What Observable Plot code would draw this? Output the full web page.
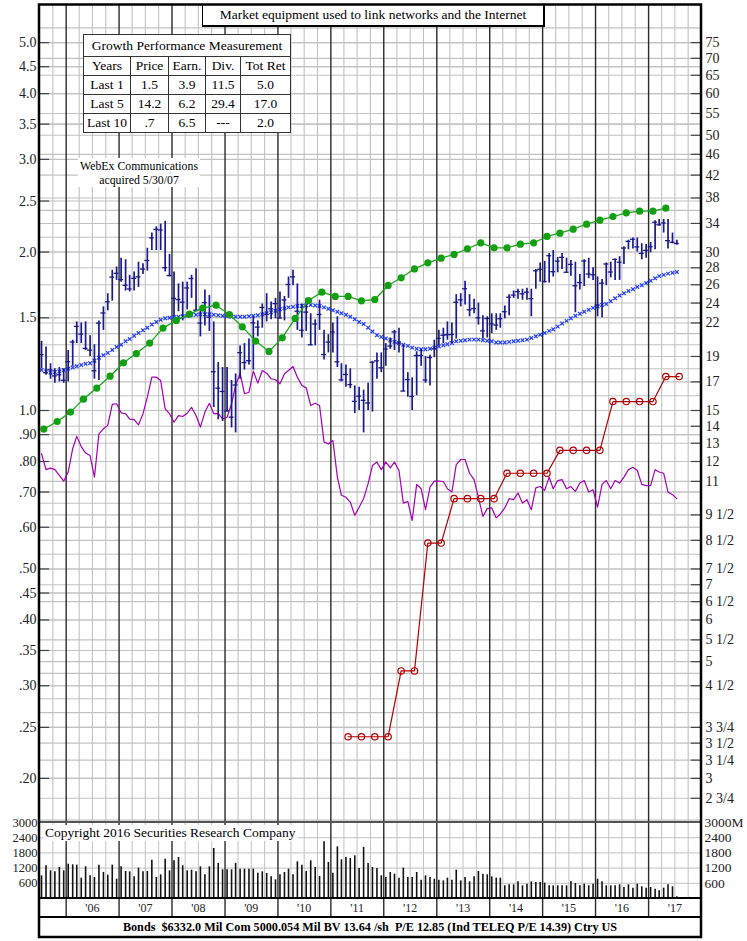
<!DOCTYPE html>
<html><head><meta charset="utf-8">
<script src="https://cdn.jsdelivr.net/npm/d3@7"></script>
<script src="https://cdn.jsdelivr.net/npm/@observablehq/plot@0.6"></script>
<style>
body{margin:0;background:#fff;}
#wrap{position:relative;width:747px;height:941px;font-family:"Liberation Serif","Times New Roman",serif;color:#000;overflow:hidden;}
#wrap svg{position:absolute;left:0;overflow:visible;}
.box{position:absolute;background:#fff;box-sizing:border-box;}
#title{left:202px;top:4px;width:343px;height:23px;border:1.5px solid #000;border-right-width:2.5px;border-bottom-width:2.5px;font-size:13.5px;line-height:20px;text-align:center;}
#perf{left:83px;top:34px;border-collapse:collapse;font-size:13.5px;position:absolute;background:#fff;}
#perf td{border:1.3px solid #333;text-align:center;padding:0;height:18px;line-height:16px;}
#perf td.h{height:21px;}
#webex{left:78px;top:158px;width:122px;height:29px;font-size:11.8px;line-height:14px;text-align:center;padding-top:1px;white-space:nowrap;}
#copy{left:43px;top:825px;width:254px;height:16px;font-size:13.5px;line-height:16px;padding-left:2px;white-space:nowrap;}
#footer{left:39px;top:917px;width:662px;height:20px;font-size:12.2px;font-weight:bold;line-height:20px;text-align:center;white-space:nowrap;}
</style></head><body><div id="wrap"></div>
<script>
// ---------------- data ----------------
const titleText = "Market equipment used to link networks and the Internet";
const footerText = "Bonds  $6332.0 Mil Com 5000.054 Mil BV 13.64 /sh  P/E 12.85 (Ind TELEQ P/E 14.39) Ctry US";
const noteLines = ["WebEx Communications", "acquired 5/30/07"];
const copyrightText = "Copyright 2016 Securities Research Company";
const perfTitle = "Growth Performance Measurement";
const perfHeader = ["Years", "Price", "Earn.", "Div.", "Tot Ret"];
const perfRows = [
  ["Last 1", "1.5", "3.9", "11.5", "5.0"],
  ["Last 5", "14.2", "6.2", "29.4", "17.0"],
  ["Last 10", ".7", "6.5", "---", "2.0"]
];
const ratio = 15; // price scale (right) = 15 x earnings scale (left)
const leftTicks = [5, 4.5, 4, 3.5, 3, 2.5, 2, 1.5, 1, .9, .8, .7, .6, .5, .45, .4, .35, .3, .25, .2];
const leftLabels = ["5.0","4.5","4.0","3.5","3.0","2.5","2.0","1.5","1.0",".90",".80",".70",".60",".50",".45",".40",".35",".30",".25",".20"];
const rightTicks = [75,70,65,60,55,50,46,42,38,34,30,28,26,24,22,19,17,15,14,13,12,11,9.5,8.5,7.5,7,6.5,6,5.5,5,4.5,3.75,3.5,3.25,3,2.75];
const rightLabels = ["75","70","65","60","55","50","46","42","38","34","30","28","26","24","22","19","17","15","14","13","12","11","9 1/2","8 1/2","7 1/2","7","6 1/2","6","5 1/2","5","4 1/2","3 3/4","3 1/2","3 1/4","3","2 3/4"];
const gridPrices = [80,75,70,67.5,65,60,55,52.5,50,46,42,38,36,34,32,30,28,26,24,22.5,22,21,20,19,18,17,16,15,14,13.5,13,12,11,10.5,10,9.5,9,8.5,8,7.5,7,6.75,6.5,6,5.5,5.25,5,4.75,4.5,4.25,4,3.75,3.5,3.25,3,2.75,2.5];
const volTicks = [3000, 2400, 1800, 1200, 600];
const volLeftLabels = ["3000","2400","1800","1200","600"];
const volRightLabels = ["3000M","2400","1800","1200","600"];
const yearLabels = ["'06","'07","'08","'09","'10","'11","'12","'13","'14","'15","'16","'17"];

// monthly price bars, Jul 2005 .. Jul 2017 (dollars, right scale)
const high = [20.3,19.8,18.4,18.0,18.1,18.0,19.5,20.4,22.1,22.0,22.1,20.8,20.0,22.2,23.6,25.0,27.7,28.1,29.2,29.0,27.1,27.5,28.7,28.5,30.5,32.6,33.5,33.9,34.3,29.7,27.5,26.1,26.3,26.3,27.1,27.9,23.4,25.4,24.8,22.1,18.5,18.1,18.1,17.1,17.6,19.9,20.1,20.5,22.6,22.2,23.9,25.0,24.1,24.5,25.2,24.7,26.9,27.7,26.1,23.9,24.5,22.9,22.3,24.3,21.3,20.9,22.0,22.6,18.4,18.3,18.0,16.7,16.6,16.4,16.9,18.6,19.3,19.3,20.1,20.6,21.3,21.5,20.0,17.7,17.3,19.4,19.6,19.0,19.1,20.4,21.3,21.5,22.1,22.0,24.9,25.0,26.4,24.9,24.4,24.0,22.7,22.6,22.9,22.9,22.9,23.7,24.9,25.3,25.5,25.5,25.6,25.5,27.8,28.6,28.8,29.8,30.2,29.3,29.8,29.2,28.9,28.7,27.2,29.0,29.2,28.0,26.9,26.6,28.6,28.7,29.1,29.4,30.7,31.6,31.9,31.9,31.1,31.0,31.3,34.4,34.6,34.6,34.6,32.6,31.6];
const low = [18.0,17.5,17.2,16.9,17.0,16.9,17.0,18.2,20.1,20.1,19.5,19.0,17.2,17.1,21.3,23.2,24.2,26.5,26.3,25.3,25.2,25.3,25.7,27.2,27.6,30.2,30.2,30.2,27.5,26.9,22.6,23.1,22.2,23.3,24.5,23.2,20.7,21.7,21.2,15.2,14.4,14.3,14.9,13.9,13.6,17.2,17.9,18.3,17.9,20.7,21.5,22.1,22.3,22.4,22.4,22.2,24.5,25.9,21.3,20.6,21.2,19.9,19.9,21.3,18.7,19.3,19.3,18.1,17.0,16.6,16.5,14.8,15.0,13.6,15.0,14.9,17.2,17.7,18.2,19.6,19.5,19.3,16.3,15.9,15.0,16.0,18.2,16.9,16.7,18.9,19.9,20.1,20.4,20.1,20.5,23.6,23.8,22.6,22.9,21.8,20.5,20.6,21.0,21.3,21.5,22.4,22.7,24.5,24.4,24.3,24.3,22.6,25.5,26.3,26.2,26.2,26.9,27.4,27.8,27.4,27.0,23.0,25.4,25.8,26.7,26.5,22.6,22.5,25.9,26.8,26.5,26.5,28.4,30.3,30.4,30.0,29.0,29.2,29.9,30.3,33.6,32.6,30.4,31.1,30.9];
const close = [19.15,17.7,17.92,17.45,17.54,17.12,18.57,20.24,21.67,20.95,19.68,19.53,17.85,21.99,22.98,24.13,26.88,27.33,26.59,25.93,25.53,26.74,26.92,27.85,28.91,31.92,33.13,33.04,28.02,27.07,24.50,24.37,24.09,25.64,26.72,23.26,21.99,24.05,22.56,17.77,16.54,16.30,14.97,14.57,16.77,19.32,18.50,18.65,22.01,21.60,23.54,22.85,23.40,23.94,22.47,24.33,26.03,26.92,23.16,21.31,23.07,20.00,21.90,22.83,19.16,20.23,21.15,18.56,17.15,17.56,16.80,15.61,15.97,15.68,15.50,18.53,18.64,18.08,19.63,19.88,21.15,20.15,16.33,17.17,15.95,19.08,19.08,17.14,18.91,19.65,20.57,20.85,20.89,20.92,24.08,24.34,25.55,23.30,23.43,22.50,21.25,22.43,21.91,21.80,22.41,23.11,24.62,24.85,25.23,24.99,25.17,24.47,27.64,27.82,26.37,29.52,27.53,28.83,29.31,27.46,28.42,25.88,26.25,28.85,27.25,27.16,23.79,26.18,28.47,27.49,29.05,28.69,30.53,31.44,31.72,30.68,29.82,30.22,30.71,34.18,33.80,34.07,31.53,31.30,31.15];
// moving average of price (right scale)
const movingAvg = [17.9,17.8,17.7,17.75,17.8,17.9,18.0,18.1,18.2,18.3,18.4,18.45,18.65,18.9,19.1,19.3,19.55,19.8,20.0,20.3,20.5,20.8,21.05,21.3,21.55,21.85,22.1,22.3,22.45,22.5,22.55,22.6,22.65,22.7,22.8,22.8,22.85,22.85,22.85,22.8,22.75,22.7,22.65,22.6,22.6,22.6,22.6,22.65,22.7,22.75,22.85,22.95,23.05,23.2,23.35,23.45,23.55,23.6,23.7,23.7,23.75,23.8,23.75,23.7,23.55,23.4,23.25,23.1,22.95,22.8,22.6,22.35,22.1,21.9,21.55,21.2,20.85,20.7,20.55,20.4,20.25,20.15,20.0,19.9,19.75,19.65,19.6,19.6,19.65,19.75,19.85,19.95,20.05,20.15,20.3,20.35,20.4,20.45,20.45,20.45,20.4,20.35,20.3,20.2,20.2,20.2,20.25,20.3,20.35,20.4,20.45,20.6,20.75,20.9,21.05,21.25,21.4,21.65,21.95,22.2,22.45,22.7,22.9,23.1,23.3,23.5,23.65,23.8,23.9,24.2,24.5,24.8,25.05,25.3,25.5,25.75,25.95,26.2,26.45,26.75,27.0,27.15,27.3,27.4,27.5];
// relative strength line (left scale units)
const relStrength = [0.828,0.772,0.777,0.772,0.753,0.734,0.764,0.846,0.893,0.854,0.830,0.821,0.747,0.903,0.923,0.937,1.027,1.030,0.990,0.986,0.963,0.961,0.939,0.986,1.060,1.157,1.157,1.140,1.007,0.986,0.950,0.978,0.974,0.988,1.014,0.978,0.930,0.993,1.032,0.986,0.986,0.964,0.971,1.030,1.116,1.177,1.076,1.083,1.188,1.127,1.191,1.177,1.149,1.144,1.124,1.174,1.191,1.212,1.157,1.116,1.104,1.022,1.032,1.022,0.871,0.864,0.877,0.747,0.690,0.684,0.670,0.632,0.655,0.680,0.726,0.786,0.798,0.772,0.798,0.778,0.798,0.769,0.667,0.672,0.618,0.724,0.710,0.648,0.715,0.734,0.734,0.733,0.710,0.700,0.789,0.807,0.807,0.760,0.739,0.684,0.629,0.651,0.653,0.625,0.636,0.653,0.680,0.677,0.697,0.667,0.677,0.648,0.713,0.717,0.705,0.747,0.710,0.736,0.739,0.710,0.717,0.702,0.728,0.736,0.700,0.707,0.655,0.724,0.736,0.710,0.736,0.728,0.747,0.772,0.780,0.769,0.724,0.720,0.720,0.772,0.764,0.760,0.700,0.692,0.680];
// monthly volume (millions)
const volume = [895,1290,1092,1053,1224,1092,1355,1329,1316,803,1250,895,829,1316,1026,921,1316,763,1250,1066,1053,855,1198,1053,1066,1513,829,934,1553,1092,1487,1619,1290,1092,1119,1053,1250,934,1250,1974,1382,1132,1132,1132,1382,1158,1158,1158,1158,1000,1053,987,855,737,934,1026,1158,934,1448,1316,1066,1487,1224,868,2237,1421,1000,2040,1527,1619,1579,1684,1184,2013,1382,1224,1184,895,829,1026,961,803,1198,829,829,1026,724,895,829,763,724,697,803,724,1119,697,829,658,855,1066,961,934,855,803,803,500,540,540,658,500,566,658,632,632,605,500,500,500,500,500,658,592,500,566,500,566,763,658,500,500,500,540,434,540,408,566,461,408,434,368,303,408,540,461,66];
// quarterly trailing earnings (left scale), fiscal quarters Jul 2005 .. Apr 2017
const earnings = [0.922,0.953,0.993,1.051,1.103,1.162,1.232,1.283,1.343,1.434,1.483,1.524,1.565,1.585,1.522,1.442,1.355,1.295,1.374,1.496,1.618,1.678,1.647,1.647,1.616,1.625,1.728,1.787,1.858,1.908,1.947,1.979,2.029,2.082,2.037,2.037,2.070,2.082,2.141,2.172,2.210,2.259,2.299,2.336,2.374,2.391,2.391,2.423];
// annual dividend rate (left scale), quarterly from Apr 2011 .. Jul 2017
const dividends = [0.24,0.24,0.24,0.24,0.32,0.32,0.56,0.56,0.68,0.68,0.68,0.68,0.76,0.76,0.76,0.76,0.84,0.84,0.84,0.84,1.04,1.04,1.04,1.04,1.16,1.16];
const dividendStartQuarter = 23;

// ---------------- build ----------------
const U = (y, m, d) => new Date(Date.UTC(y, m, d));
const start = U(2005, 6, 1), end = U(2018, 0, 1);
const months = d3.utcMonth.range(U(2005, 6, 1), U(2017, 7, 1));
const bars = months.map((m, i) => ({date: d3.utcDay.offset(m, 14), hi: high[i] / ratio, lo: low[i] / ratio, cl: close[i] / ratio, ma: movingAvg[i] / ratio, rs: relStrength[i], vol: volume[i]}));
const qEnd = k => U(2005, 7 + 3 * k, 0);
const eps = earnings.map((v, k) => ({date: qEnd(k), v}));
const divs = dividends.map((v, k) => ({date: qEnd(k + dividendStartQuarter), v}));
const quarters = d3.utcMonth.every(3).range(U(2005, 9, 1), end).filter(d => d.getUTCMonth() !== 0);
const years = d3.utcYear.range(U(2006, 0, 1), end);
const yearMid = years.map((d, i) => ({date: U(d.getUTCFullYear(), 6, 1), label: yearLabels[i]}));

const font = {fontFamily: "Liberation Serif, Times New Roman, serif", fontSize: "14px", background: "transparent", overflow: "visible"};
const xs = {type: "utc", domain: [start, end], range: [39, 701]};
const gridC = "#c2c2c2", yearC = "#2a2a2a";
const tickLen = 70; // days

const price = Plot.plot({
  width: 747, height: 822, marginLeft: 39, marginRight: 46, marginTop: 5, marginBottom: 0,
  style: font,
  x: {...xs, axis: null},
  y: {type: "log", domain: [0.16492, 5.8805], range: [822, 5], axis: null},
  marks: [
    Plot.ruleY(gridPrices, {y: d => d / ratio, stroke: gridC, strokeWidth: 1.1}),
    Plot.ruleY(leftTicks, {y: d => d, stroke: gridC, strokeWidth: 1.1}),
    Plot.ruleX(quarters, {x: d => d, stroke: gridC, strokeWidth: 1.1}),
    Plot.ruleX(years, {x: d => d, stroke: yearC, strokeWidth: 1.4}),
    Plot.ruleY(leftTicks, {y: d => d, x1: start, x2: d3.utcDay.offset(start, tickLen), stroke: "#444", strokeWidth: 1.2}),
    Plot.ruleY(rightTicks, {y: d => d / ratio, x1: d3.utcDay.offset(end, -tickLen), x2: end, stroke: "#444", strokeWidth: 1.2}),
    Plot.text(leftTicks, {x: start, y: d => d, text: (d, i) => leftLabels[i], textAnchor: "end", dx: -3, fill: "#222"}),
    Plot.text(rightTicks, {x: end, y: d => d / ratio, text: (d, i) => rightLabels[i], textAnchor: "start", dx: 4, fill: "#222"}),
    Plot.line(bars, {x: "date", y: "rs", stroke: "#a400b4", strokeWidth: 1.2}),
    Plot.line(divs, {x: "date", y: "v", stroke: "#b30000", strokeWidth: 1.2}),
    Plot.dot(divs, {x: "date", y: "v", r: 3.2, stroke: "#b30000", fill: "none", strokeWidth: 1.2}),
    Plot.dot(bars, {x: "date", y: "ma", symbol: "times", r: 1.8, stroke: "#1f3cff", strokeWidth: 1.2}),
    Plot.ruleX(bars, {x: "date", y1: "lo", y2: "hi", stroke: "#1a1a8c", strokeWidth: 1.7}),
    Plot.ruleY(bars, {y: "cl", x1: d => d3.utcDay.offset(d.date, -17), x2: d => d3.utcDay.offset(d.date, 17), stroke: "#1a1a8c", strokeWidth: 1.3}),
    Plot.line(eps, {x: "date", y: "v", stroke: "#1fa51f", strokeWidth: 1.3}),
    Plot.dot(eps, {x: "date", y: "v", r: 3.6, fill: "#12a012", stroke: "none"})
  ]
});
price.style.top = "0px";

const vol = Plot.plot({
  width: 747, height: 76, marginLeft: 39, marginRight: 46, marginTop: 0, marginBottom: 0,
  style: font,
  x: {...xs, axis: null},
  y: {domain: [0, 3000], range: [76, 0], axis: null},
  marks: [
    Plot.ruleY(volTicks.slice(1), {y: d => d, stroke: gridC}),
    Plot.ruleX(quarters, {x: d => d, stroke: gridC}),
    Plot.ruleX(years, {x: d => d, stroke: yearC, strokeWidth: 1.4}),
    Plot.ruleX(bars, {x: "date", y1: 0, y2: "vol", stroke: "#111", strokeWidth: 1.6}),
    Plot.text(volTicks, {x: start, y: d => d, text: (d, i) => volLeftLabels[i], textAnchor: "end", dx: -2, fontSize: 12.5, fill: "#222"}),
    Plot.text(volTicks, {x: end, y: d => d, text: (d, i) => volRightLabels[i], textAnchor: "start", dx: 3, fontSize: 13.5, fill: "#222"})
  ]
});
vol.style.top = "822px";

const band = Plot.plot({
  width: 747, height: 19, marginLeft: 39, marginRight: 46, marginTop: 0, marginBottom: 0,
  style: font,
  x: {...xs, axis: null},
  marks: [
    Plot.ruleX(years, {x: d => d, stroke: yearC, strokeWidth: 1.4}),
    Plot.text(yearMid, {x: "date", text: "label", frameAnchor: "middle", fontSize: 12, fill: "#222"})
  ]
});
band.style.top = "898px";

const wrap = document.getElementById("wrap");
wrap.append(price, vol, band);

// frame lines
const ns = "http://www.w3.org/2000/svg";
const frame = document.createElementNS(ns, "svg");
frame.setAttribute("width", 747); frame.setAttribute("height", 941);
frame.style.top = "0px"; frame.style.pointerEvents = "none";
const addLine = (x1, y1, x2, y2, w, c) => { const l = document.createElementNS(ns, "line"); l.setAttribute("x1", x1); l.setAttribute("y1", y1); l.setAttribute("x2", x2); l.setAttribute("y2", y2); l.setAttribute("stroke", c); l.setAttribute("stroke-width", w); frame.append(l); };
addLine(39, 822, 701, 822, 2, "#555");
addLine(39, 898, 701, 898, 2.2, "#000");
addLine(39, 917, 701, 917, 2, "#000");
const rect = document.createElementNS(ns, "rect");
rect.setAttribute("x", 39); rect.setAttribute("y", 4.5); rect.setAttribute("width", 662); rect.setAttribute("height", 932.5);
rect.setAttribute("fill", "none"); rect.setAttribute("stroke", "#000"); rect.setAttribute("stroke-width", 2.5);
frame.append(rect);

// html boxes
const mk = (id, html) => { const d = document.createElement("div"); d.id = id; d.className = "box"; d.innerHTML = html; return d; };
const perf = document.createElement("table"); perf.id = "perf";
const colW = [46, 37, 36, 34, 49];
perf.innerHTML = `<tr><td class="h" colspan="5">${perfTitle}</td></tr>` +
  `<tr>${perfHeader.map((h, i) => `<td style="width:${colW[i]}px">${h}</td>`).join("")}</tr>` +
  perfRows.map(r => `<tr>${r.map(c => `<td>${c}</td>`).join("")}</tr>`).join("");
wrap.append(
  mk("title", titleText),
  perf,
  mk("webex", noteLines.join("<br>")),
  mk("copy", copyrightText),
  mk("footer", footerText.replace(/  /g, "&nbsp; "))
);
wrap.append(frame);
</script></body></html>
